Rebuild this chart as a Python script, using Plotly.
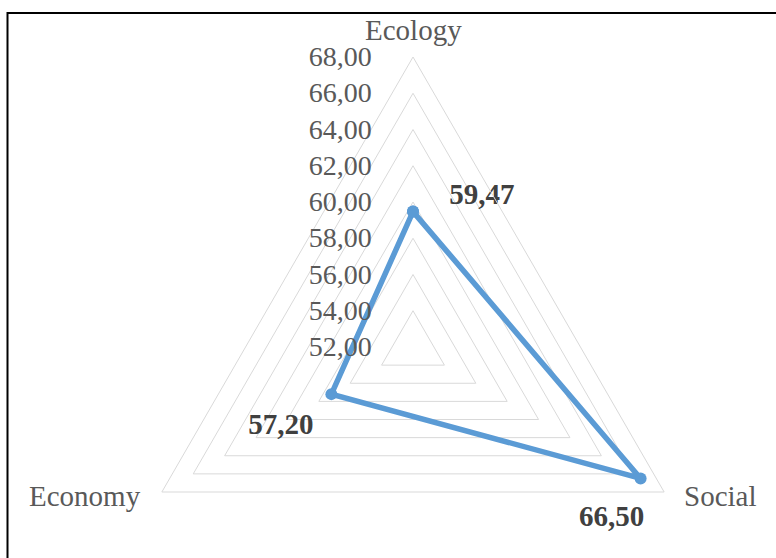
import plotly.graph_objects as go

# Radar chart: three sustainability dimensions
categories = ["Ecology", "Social", "Economy"]
scores = [59.47, 66.50, 57.20]
radial_ticks = [52, 54, 56, 58, 60, 62, 64, 66, 68]

# value-label placement around each vertex
label_positions = ["top right", "bottom center", "bottom left"]
label_offsets = [0, 39, 27]          # invisible marker sizes that push each label away from its point

W, H = 776, 640          # canvas is taller than the visible area so the polar circle fits
CX, CY, R = 413, 347, 290  # centre and radius of the radar in pixels (from top-left)

SERIF = "Liberation Serif, Times New Roman, serif"
LINE_BLUE = "#5B9BD5"
GRID = "#D9D9D9"
NBSP = "\u00a0"

def comma_decimal(v):
    return f"{v:.2f}".replace(".", ",")

labels = [comma_decimal(v) for v in scores]
labels[0] = NBSP * 5 + labels[0]
labels[1] = labels[1] + NBSP * 8

fig = go.Figure()
# the data polygon
fig.add_trace(go.Scatterpolar(
    r=scores + scores[:1],
    theta=categories + categories[:1],
    mode="lines+markers",
    line=dict(color=LINE_BLUE, width=5.5),
    marker=dict(color=LINE_BLUE, size=12),
    cliponaxis=False,
    showlegend=False,
    hoverinfo="skip",
))
# value labels
fig.add_trace(go.Scatterpolar(
    r=scores,
    theta=categories,
    mode="markers+text",
    marker=dict(size=label_offsets, color="rgba(0,0,0,0)", opacity=0,
                line=dict(width=0, color="rgba(0,0,0,0)")),
    text=labels,
    textposition=label_positions,
    textfont=dict(family=SERIF, size=29, color="#404040", weight="bold"),
    cliponaxis=False,
    showlegend=False,
    hoverinfo="skip",
))

dom_x = [(CX - R) / W, (CX + R) / W]
dom_y = [(H - (CY + R)) / H, (H - (CY - R)) / H]

def px(x):
    return x / W

def py(y):
    return 1 - y / H

# category names placed just outside the triangle corners
vx = R * 3 ** 0.5 / 2
corner_labels = [
    dict(text=categories[0], x=px(CX), y=py(CY - R - 27), xanchor="center", yanchor="middle"),
    dict(text=categories[1], x=px(CX + vx + 18), y=py(CY + R / 2 + 4), xanchor="left", yanchor="middle"),
    dict(text=categories[2], x=px(CX - vx - 19), y=py(CY + R / 2 + 4), xanchor="right", yanchor="middle"),
]
annotations = [
    dict(xref="paper", yref="paper", showarrow=False,
         font=dict(family=SERIF, size=29, color="#595959"), **a)
    for a in corner_labels
]

fig.update_layout(
    width=W,
    height=H,
    margin=dict(l=0, r=0, t=0, b=0, pad=0, autoexpand=False),
    paper_bgcolor="white",
    separators=",.",
    polar=dict(
        domain=dict(x=dom_x, y=dom_y),
        gridshape="linear",
        bgcolor="white",
        radialaxis=dict(
            range=[radial_ticks[0], radial_ticks[-1]],
            tickvals=radial_ticks,
            tickformat=".2f",
            angle=90,
            tickangle=90,
            side="counterclockwise",
            showline=False,
            ticks="outside",
            ticklen=31,
            tickcolor="rgba(0,0,0,0)",
            showgrid=True,
            gridcolor=GRID,
            gridwidth=1,
            tickfont=dict(family=SERIF, size=28, color="#595959"),
        ),
        angularaxis=dict(
            direction="clockwise",
            rotation=90,
            showline=True,
            linecolor=GRID,
            linewidth=1,
            showgrid=False,
            ticks="",
            showticklabels=False,
        ),
    ),
    annotations=annotations,
    shapes=[
        # frame lines along the top and left edges
        dict(type="line", xref="paper", yref="paper",
             x0=7 / W, x1=1, y0=py(13), y1=py(13),
             line=dict(color="black", width=2)),
        dict(type="line", xref="paper", yref="paper",
             x0=px(7.5), x1=px(7.5), y0=0, y1=py(12),
             line=dict(color="black", width=2)),
    ],
)

fig.write_html("out.html")
